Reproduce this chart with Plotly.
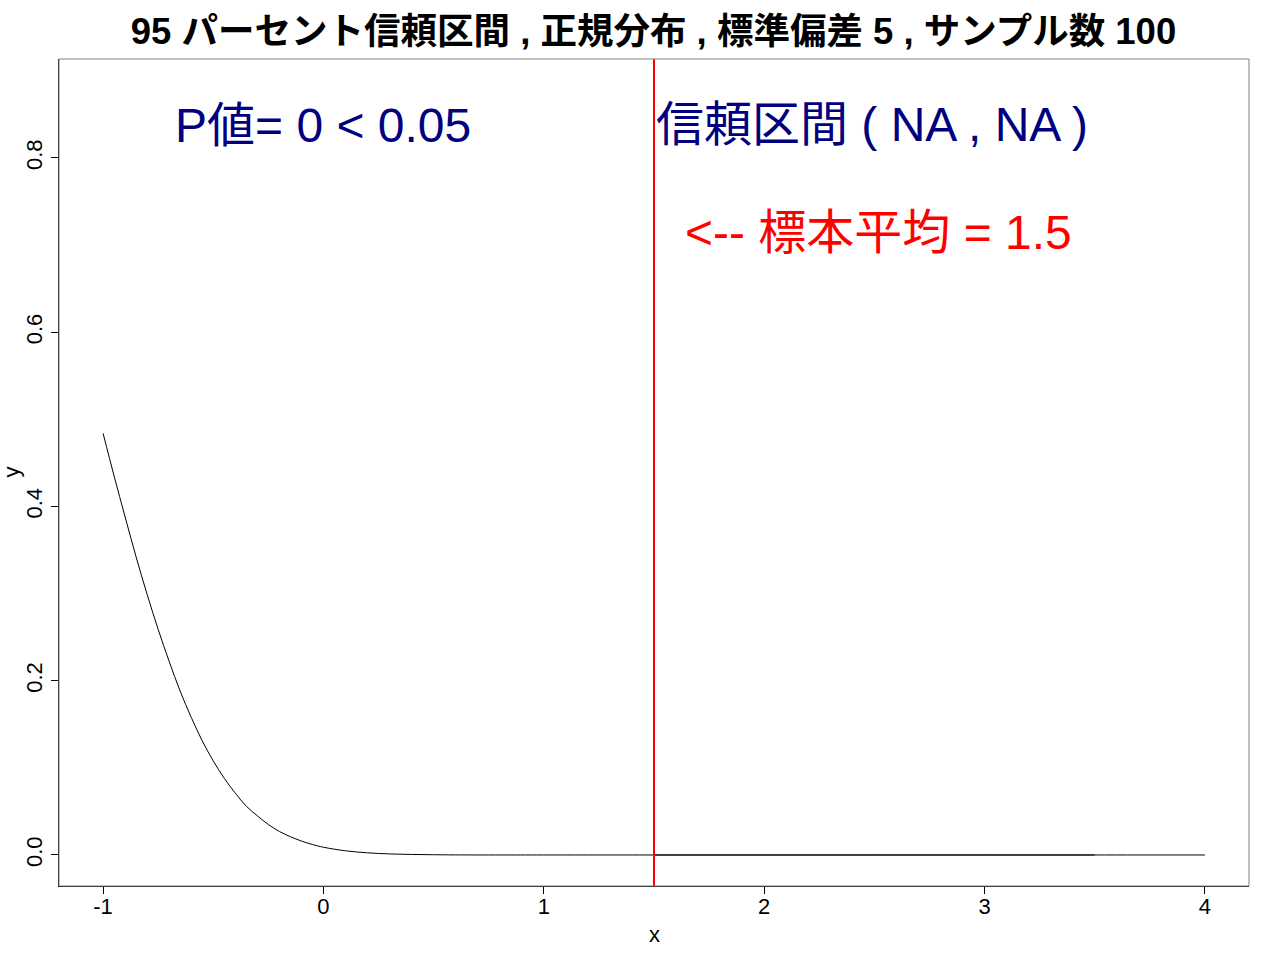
import plotly.graph_objects as go

# Curve values (density of sample mean)
curve_x = [-1.0, -0.95, -0.9, -0.85, -0.8, -0.75, -0.7, -0.65, -0.6, -0.55, -0.5,
           -0.45, -0.4, -0.35, -0.3, -0.25, -0.2, -0.15, -0.1, -0.05, 0.0,
           0.1, 0.2, 0.3, 0.4, 0.5, 0.6, 0.8, 1.0, 1.5, 2.0, 2.5, 3.0, 3.5, 4.0]
curve_y = [0.484, 0.435, 0.388, 0.342, 0.299, 0.259, 0.222, 0.188, 0.158, 0.131, 0.108,
           0.088, 0.071, 0.056, 0.045, 0.035, 0.027, 0.021, 0.016, 0.012, 0.0089,
           0.0048, 0.0025, 0.0012, 0.0006, 0.0003, 0.0001, 0.0, 0.0, 0.0, 0.0, 0.0, 0.0, 0.0, 0.0]

# second segment along zero
seg_x = [1.5, 3.5]
seg_y = [0.0, 0.0]

sample_mean = 1.5
x_ticks = [-1, 0, 1, 2, 3, 4]
y_ticks = [0.0, 0.2, 0.4, 0.6, 0.8]

title_text = "95 パーセント信頼区間 , 正規分布 , 標準偏差 5 , サンプル数 100"
p_text = "P値= 0 < 0.05"
ci_text = "信頼区間 ( NA , NA )"
mean_text = "<-- 標本平均 = 1.5"
x_label = "x"
y_label = "y"

FONT = "Liberation Sans, Arial, Noto Sans CJK JP, sans-serif"

fig = go.Figure()
fig.add_trace(go.Scatter(x=curve_x, y=curve_y, mode="lines",
                         line=dict(color="black", width=1, shape="spline"),
                         showlegend=False, hoverinfo="skip"))
fig.add_trace(go.Scatter(x=seg_x, y=seg_y, mode="lines",
                         line=dict(color="black", width=1),
                         showlegend=False, hoverinfo="skip"))
fig.add_vline(x=sample_mean, line=dict(color="red", width=2))

fig.add_annotation(x=0.0, y=0.837, text=p_text, showarrow=False,
                   xanchor="center", yanchor="middle",
                   font=dict(family=FONT, size=48, color="#000080"))
fig.add_annotation(x=1.5, y=0.839, text=ci_text, showarrow=False,
                   xanchor="left", yanchor="middle",
                   font=dict(family=FONT, size=48, color="#000080"))
fig.add_annotation(x=1.63, y=0.715, text=mean_text, showarrow=False,
                   xanchor="left", yanchor="middle",
                   font=dict(family=FONT, size=48, color="red"))

# axis titles
fig.add_annotation(xref="paper", yref="paper", x=0.5, y=-48 / 827, text=x_label,
                   showarrow=False, xanchor="center", yanchor="middle",
                   font=dict(family=FONT, size=22, color="black"))
fig.add_annotation(xref="paper", yref="paper", x=-48 / 1190, y=0.5, text=y_label,
                   showarrow=False, xanchor="center", yanchor="middle", textangle=-90,
                   font=dict(family=FONT, size=22, color="black"))

# gray frame
fig.add_shape(type="rect", xref="paper", yref="paper", x0=0, y0=0, x1=1, y1=1,
              line=dict(color="#808080", width=1))

fig.update_layout(
    width=1280, height=960,
    margin=dict(l=59, r=31, t=59, b=74),
    paper_bgcolor="white", plot_bgcolor="white",
    title=dict(text="<b>" + title_text + "</b>", x=(131 + 1176) / 2 / 1280, xanchor="center",
               y=1 - 31 / 960, yanchor="middle",
               font=dict(family=FONT, size=36.5, color="black")),
    font=dict(family=FONT, size=22, color="black"),
    xaxis=dict(range=[-1.2, 4.2], tickvals=x_ticks, ticktext=[str(v) for v in x_ticks],
               ticks="outside", ticklen=7, tickcolor="black", showgrid=False,
               zeroline=False, showline=True, linecolor="black", linewidth=1,
               automargin=False, ticklabelstandoff=-6,
               tickfont=dict(size=22)),
    yaxis=dict(range=[-0.0356, 0.9136], tickvals=y_ticks,
               ticktext=["%.1f" % v for v in y_ticks], tickangle=-90,
               ticks="outside", ticklen=7, tickcolor="black", showgrid=False,
               zeroline=False, showline=True, linecolor="black", linewidth=1,
               automargin=False,
               tickfont=dict(size=22)),
)

fig.write_html("out.html")
